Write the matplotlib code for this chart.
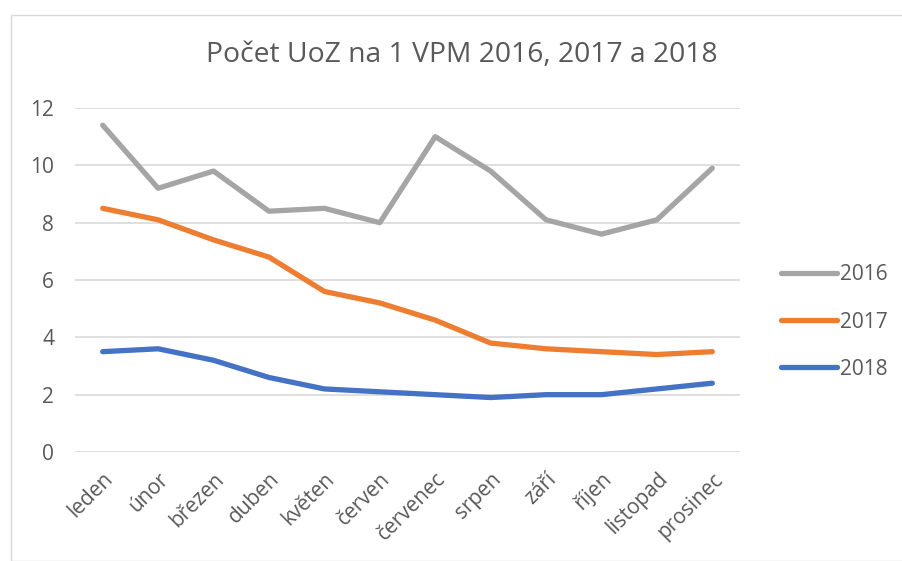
import numpy as np
import matplotlib
matplotlib.use("Agg")
import matplotlib.pyplot as plt
from matplotlib.patches import Rectangle

plt.rcParams['font.family'] = ['Open Sans', 'DejaVu Sans']

# data
mesice = ['leden', 'únor', 'březen', 'duben', 'květen', 'červen',
          'červenec', 'srpen', 'září', 'říjen', 'listopad', 'prosinec']
r2016 = [11.4, 9.2, 9.8, 8.4, 8.5, 8.0, 11.0, 9.8, 8.1, 7.6, 8.1, 9.9]
r2017 = [8.5, 8.1, 7.4, 6.8, 5.6, 5.2, 4.6, 3.8, 3.6, 3.5, 3.4, 3.5]
r2018 = [3.5, 3.6, 3.2, 2.6, 2.2, 2.1, 2.0, 1.9, 2.0, 2.0, 2.2, 2.4]
yticks = [0, 2, 4, 6, 8, 10, 12]

txt = '#595959'
W, H = 902, 561

fig = plt.figure(figsize=(W/100, H/100), dpi=100)
# chart border (Excel chart area)
fig.patches.append(Rectangle((11/W, 0), 1.0, 1 - 15/H, transform=fig.transFigure,
                             fill=False, edgecolor='#D9D9D9', linewidth=1.0))

ax = fig.add_axes([75/W, 1 - 452/H, (740-75)/W, (452-108)/H])
x = np.arange(len(mesice))
ax.plot(x, r2016, color='#A5A5A5', lw=3.8, label='2016', solid_capstyle='round')
ax.plot(x, r2017, color='#ED7D31', lw=3.8, label='2017', solid_capstyle='round')
ax.plot(x, r2018, color='#4472C4', lw=3.8, label='2018', solid_capstyle='round')

ax.set_xlim(-0.5, 11.5)
ax.set_ylim(0, 12)
ax.set_yticks(yticks)
ax.set_xticks(x)
ax.set_xticklabels(mesice, rotation=45, ha='right', va='top', rotation_mode='anchor')
ax.grid(axis='y', color='#D9D9D9', lw=1.2)
ax.set_axisbelow(True)
for s in ax.spines.values():
    s.set_visible(False)
ax.tick_params(axis='both', length=0, colors=txt, labelsize=15)
ax.tick_params(axis='y', pad=15)
ax.tick_params(axis='x', pad=12)

fig.text(462/W, 1 - 55/H, 'Počet UoZ na 1 VPM 2016, 2017 a 2018', ha='center', va='center',
         fontsize=20.3, color=txt)

leg = ax.legend(loc='center left', bbox_to_anchor=(762/W, 1 - 322/H),
                bbox_transform=fig.transFigure, frameon=False, fontsize=15,
                handlelength=2.7, handletextpad=0.15, labelspacing=1.25)
for t in leg.get_texts():
    t.set_color(txt)

fig.savefig('out.png', dpi=100)
